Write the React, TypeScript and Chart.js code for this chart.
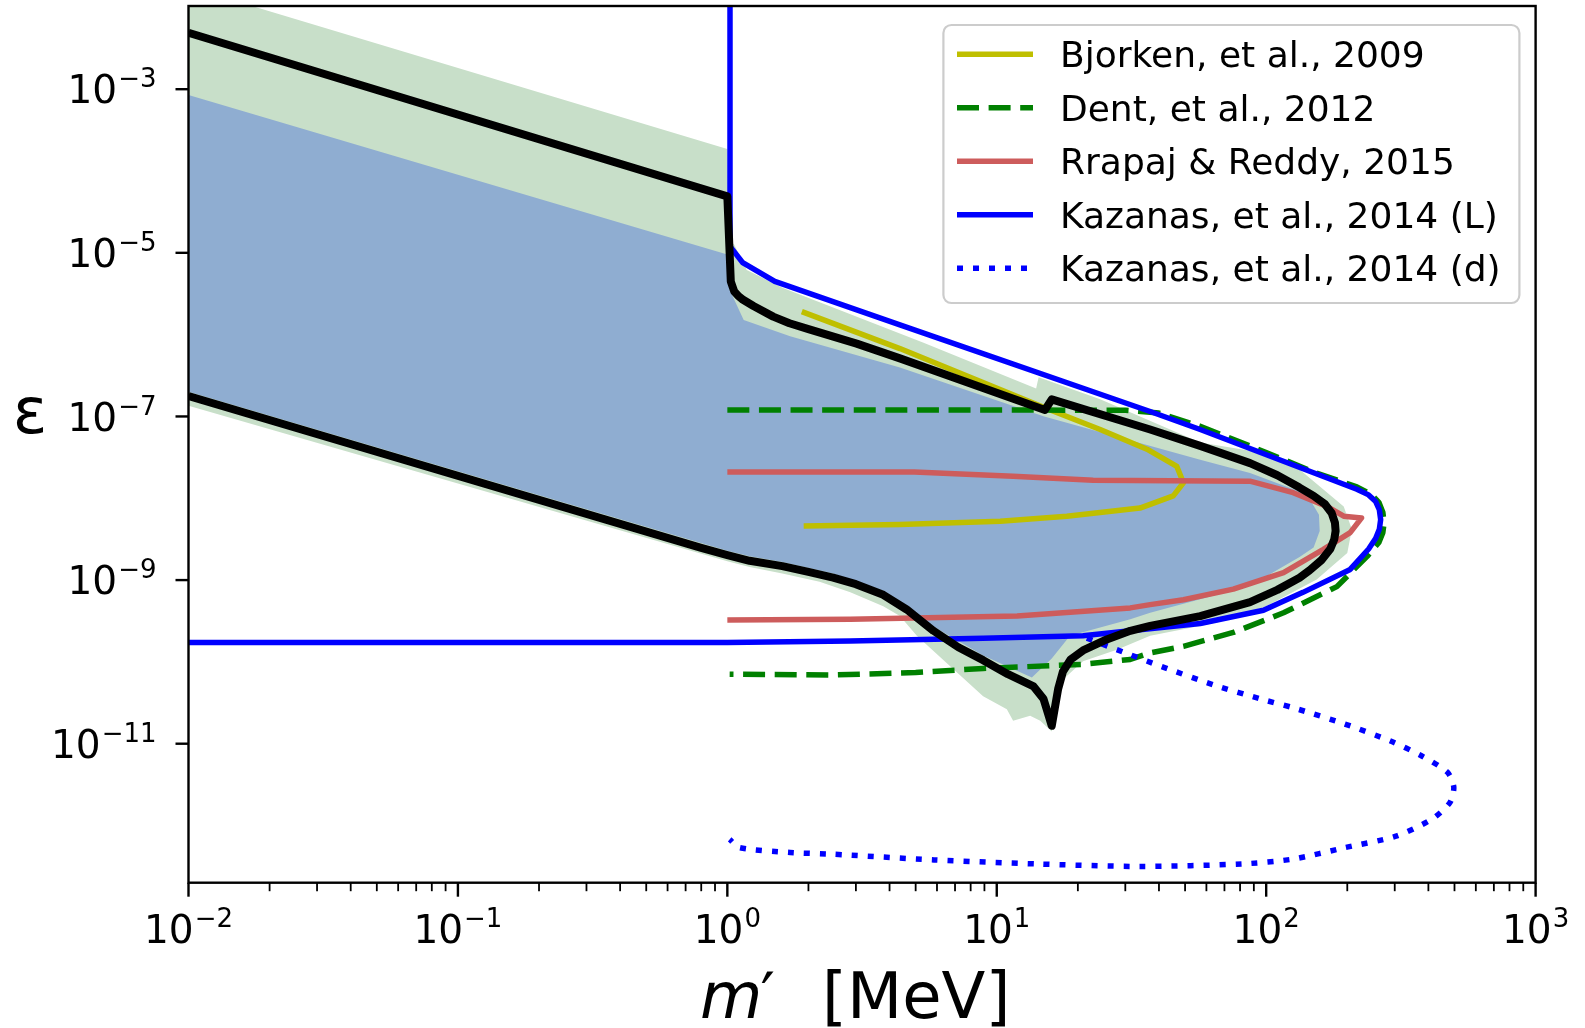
import React, { useEffect, useRef } from 'react';
import { Chart, registerables } from 'chart.js';

Chart.register(...registerables);

const W = 1585;
const H = 1028;

// ---------- data (m' in MeV, epsilon) ----------
const greenRegionX = [0.01, 1.0, 1.01, 1.06, 1.18, 1.61, 5.35, 14.0, 14.3, 24.2, 56.9, 87.1, 133, 194, 208, 200, 154, 100, 65.9, 37.1, 27.9, 20.9, 17.7, 16.2, 16.0, 14.5, 13.3, 11.5, 10.9, 8.9, 6.7, 5.05, 4.37, 3.79, 2.86, 2.2, 1.6, 1.21, 1.0, 0.01];
const greenRegionY = [1.78e-2, 1.86e-4, 1.41e-5, 1.26e-5, 6.17e-6, 3.72e-6, 7.94e-7, 2.19e-7, 3.02e-7, 1.62e-7, 4.79e-8, 3.8e-8, 2.24e-8, 7.94e-9, 4.17e-9, 2.14e-9, 1.02e-9, 4.79e-10, 3.02e-10, 2.09e-10, 1.41e-10, 1.02e-10, 6.17e-11, 2.0e-11, 1.41e-11, 1.91e-11, 2.19e-11, 1.91e-11, 2.63e-11, 3.8e-11, 8.91e-11, 2.09e-10, 3.63e-10, 4.79e-10, 7.08e-10, 9.55e-10, 1.2e-9, 1.45e-9, 1.7e-9, 1.35e-7];

const blueRegionX = [0.01, 1.0, 1.02, 1.15, 1.71, 4.37, 15.0, 56.9, 87.1, 141.6, 157, 158, 150, 133, 87.1, 37.1, 31.3, 18.7, 16.0, 13.5, 8.9, 5.82, 4.63, 3.79, 2.47, 1.6, 1.21, 1.0, 0.01];
const blueRegionY = [8.51e-4, 9.55e-6, 3.55e-6, 1.51e-6, 9.55e-7, 3.98e-7, 1.0e-7, 2.95e-8, 2.04e-8, 1.12e-8, 6.31e-9, 3.98e-9, 2.51e-9, 1.91e-9, 8.51e-10, 3.98e-10, 3.31e-10, 2.09e-10, 1.1e-10, 6.46e-11, 1.2e-10, 2.7e-10, 4.9e-10, 7.4e-10, 1.2e-9, 1.66e-9, 1.95e-9, 2.29e-9, 2.0e-7];

const boundX = [0.01, 1.0, 1.03, 1.06, 1.1, 1.14, 1.25, 1.48, 1.7, 2.0, 3.02, 4.37, 15.1, 16.0, 37.1, 56.9, 87.1, 110, 133, 150, 165, 175, 180, 181, 179, 173, 160, 145, 133, 110, 87.1, 56.9, 37.1, 31.3, 25, 20.9, 18.8, 17.6, 16.9, 16.0, 14.9, 13.7, 11, 8.9, 7.2, 5.82, 4.63, 3.79, 3.0, 2.47, 2.0, 1.6, 1.21, 1.0, 0.8, 0.01];
const boundY = [4.9e-3, 4.9e-5, 4.47e-6, 3.39e-6, 2.95e-6, 2.69e-6, 2.24e-6, 1.66e-6, 1.38e-6, 1.17e-6, 7.76e-7, 5.13e-7, 1.2e-7, 1.62e-7, 6.92e-8, 4.37e-8, 2.69e-8, 1.91e-8, 1.35e-8, 1.07e-8, 8.51e-9, 6.61e-9, 5.01e-9, 3.98e-9, 3.16e-9, 2.4e-9, 1.74e-9, 1.32e-9, 1.07e-9, 7.59e-10, 5.37e-10, 3.63e-10, 2.75e-10, 2.4e-10, 1.82e-10, 1.38e-10, 1.07e-10, 7.59e-11, 4.68e-11, 1.66e-11, 3.55e-11, 5.01e-11, 7.08e-11, 1.05e-10, 1.51e-10, 2.4e-10, 4.37e-10, 6.61e-10, 8.91e-10, 1.07e-9, 1.26e-9, 1.48e-9, 1.72e-9, 2.02e-9, 2.48e-9, 1.78e-7];

const bjorkenX = [1.89, 4.37, 15.8, 24.2, 36.1, 46.6, 49.3, 45.2, 34, 18.2, 10.3, 4.37, 1.92];
const bjorkenY = [1.91e-6, 6.76e-7, 1.2e-7, 6.92e-8, 3.98e-8, 2.45e-8, 1.55e-8, 1.07e-8, 7.59e-9, 6.03e-9, 5.25e-9, 4.79e-9, 4.57e-9];

const dentX = [1.0, 10, 30, 40, 56.9, 100, 150, 217, 245, 262, 271, 274, 271, 262, 237, 183, 116, 75.5, 49.3, 37.1, 31.3, 20.9, 8.9, 5, 2.47, 1.02];
const dentY = [1.2e-7, 1.2e-7, 1.19e-7, 1.1e-7, 7.59e-8, 3.63e-8, 2.09e-8, 1.38e-8, 1.12e-8, 8.91e-9, 6.76e-9, 5.01e-9, 3.8e-9, 2.88e-9, 1.95e-9, 8.32e-10, 3.98e-10, 2.29e-10, 1.55e-10, 1.29e-10, 1.07e-10, 9.33e-11, 8.32e-11, 7.41e-11, 6.92e-11, 7.08e-11];

const rrapajX = [1.0, 4.94, 11.5, 22.8, 87, 126, 168, 194, 226, 205, 163, 116, 75.5, 49.3, 37.1, 31.3, 11.9, 2.86, 1.0];
const rrapajY = [2.09e-8, 2.09e-8, 1.86e-8, 1.66e-8, 1.62e-8, 1.17e-8, 7.94e-9, 6.03e-9, 5.75e-9, 3.8e-9, 2.37e-9, 1.23e-9, 7.76e-10, 5.75e-10, 5.01e-10, 4.57e-10, 3.63e-10, 3.31e-10, 3.24e-10];

const kazLX = [1.023, 1.023, 1.14, 1.5, 4.37, 37.1, 56.9, 217, 240, 255, 263, 266, 263, 255, 240, 205, 137, 97.7, 56.9, 31.3, 20.9, 8.9, 2.86, 1.0, 0.01];
const kazLY = [2e-2, 1.2e-5, 7.59e-6, 4.47e-6, 1.32e-6, 1.15e-7, 6.92e-8, 1.29e-8, 1.1e-8, 9.12e-9, 7.24e-9, 5.5e-9, 4.17e-9, 3.24e-9, 2.4e-9, 1.35e-9, 7.08e-10, 4.27e-10, 2.95e-10, 2.4e-10, 2.09e-10, 1.95e-10, 1.8e-10, 1.73e-10, 1.72e-10];

const kazDX = [21.6, 27.9, 41.2, 63.6, 97, 126, 196, 291, 378, 471, 497, 481, 413, 303, 196, 126, 81.3, 33.8, 14.1, 5.85, 2.43, 1.71, 1.11, 1.02];
const kazDY = [1.95e-10, 1.41e-10, 8.71e-11, 5.25e-11, 3.47e-11, 2.75e-11, 1.74e-11, 1.07e-11, 7.08e-12, 4.47e-12, 2.95e-12, 1.91e-12, 1.2e-12, 7.41e-13, 5.37e-13, 3.89e-13, 3.39e-13, 3.16e-13, 3.39e-13, 3.8e-13, 4.47e-13, 4.68e-13, 5.37e-13, 6.76e-13];

const xTickValues = [1e-2, 1e-1, 1, 10, 100, 1000];
const xTickExps = ['\u22122', '\u22121', '0', '1', '2', '3'];
const yTickValues = [1e-3, 1e-5, 1e-7, 1e-9, 1e-11];
const yTickExps = ['\u22123', '\u22125', '\u22127', '\u22129', '\u221211'];

const legendLabels = [
  'Bjorken, et al., 2009',
  'Dent, et al., 2012',
  'Rrapaj & Reddy, 2015',
  'Kazanas, et al., 2014 (L)',
  'Kazanas, et al., 2014 (d)',
];

const FONT = '"DejaVu Sans", "Liberation Sans", sans-serif';

function pts(xs: number[], ys: number[]) {
  return xs.map((x, i) => ({ x, y: ys[i] }));
}

const decorPlugin = {
  id: 'decor',
  afterDraw(chart: any) {
    const { ctx, chartArea: a } = chart;
    const xs = chart.scales.x;
    const ys = chart.scales.y;
    const seg = (x1: number, y1: number, x2: number, y2: number) => {
      ctx.beginPath();
      ctx.moveTo(x1, y1);
      ctx.lineTo(x2, y2);
      ctx.stroke();
    };
    ctx.save();
    ctx.strokeStyle = '#000';
    ctx.lineCap = 'butt';
    ctx.setLineDash([]);

    // minor x ticks
    ctx.lineWidth = 1.8;
    for (let e = -2; e <= 2; e++) {
      for (let k = 2; k <= 9; k++) {
        const px = xs.getPixelForValue(k * Math.pow(10, e));
        seg(px, a.bottom, px, a.bottom + 8.5);
      }
    }
    // major ticks
    ctx.lineWidth = 2.4;
    xTickValues.forEach((v) => {
      const px = xs.getPixelForValue(v);
      seg(px, a.bottom, px, a.bottom + 14);
    });
    yTickValues.forEach((v) => {
      const py = ys.getPixelForValue(v);
      seg(a.left - 13, py, a.left, py);
    });
    // frame
    ctx.lineWidth = 2.4;
    ctx.strokeRect(a.left, a.top, a.right - a.left, a.bottom - a.top);

    // tick labels (10^n)
    const drawPow = (exp: string, x: number, baseline: number, align: string) => {
      ctx.font = `39px ${FONT}`;
      const wb = ctx.measureText('10').width;
      ctx.font = `26px ${FONT}`;
      const we = ctx.measureText(exp).width;
      const total = wb + we + 1;
      const x0 = align === 'center' ? x - total / 2 : x - total;
      ctx.fillStyle = '#000';
      ctx.textAlign = 'left';
      ctx.textBaseline = 'alphabetic';
      ctx.font = `39px ${FONT}`;
      ctx.fillText('10', x0, baseline);
      ctx.font = `26px ${FONT}`;
      ctx.fillText(exp, x0 + wb + 1, baseline - 16);
    };
    xTickValues.forEach((v, i) => {
      drawPow(xTickExps[i], xs.getPixelForValue(v), a.bottom + 60.5, 'center');
    });
    yTickValues.forEach((v, i) => {
      drawPow(yTickExps[i], a.left - 32, ys.getPixelForValue(v) + 14.2, 'right');
    });

    // axis titles
    ctx.fillStyle = '#000';
    ctx.textBaseline = 'alphabetic';
    ctx.textAlign = 'center';
    ctx.font = `64px ${FONT}`;
    ctx.fillText('\u03b5', 30, 433);

    const cx = (a.left + a.right) / 2;
    const xb = 1018;
    ctx.textAlign = 'left';
    ctx.font = `italic 64px ${FONT}`;
    const mStart = cx - 162;
    ctx.fillText('m', mStart, xb);
    const wm = ctx.measureText('m').width;
    ctx.font = `64px ${FONT}`;
    ctx.fillText('\u2032', mStart + wm - 2, xb);
    ctx.fillText('[MeV]', cx - 40, xb);

    // legend
    const lx = 943.4, ly = 25, lw = 576, lh = 278;
    ctx.beginPath();
    if (ctx.roundRect) ctx.roundRect(lx, ly, lw, lh, 8);
    else ctx.rect(lx, ly, lw, lh);
    ctx.fillStyle = 'rgba(255,255,255,0.85)';
    ctx.fill();
    ctx.strokeStyle = '#cccccc';
    ctx.lineWidth = 2.2;
    ctx.stroke();

    legendLabels.forEach((lab, i) => {
      const ds = chart.data.datasets.find((d: any) => d.label === lab);
      const yy = 54.3 + i * 53.5;
      if (ds) {
        ctx.strokeStyle = ds.borderColor;
        ctx.lineWidth = ds.borderWidth;
        ctx.setLineDash(ds.borderDash || []);
        ctx.lineCap = 'butt';
        seg(957, yy, 1033, yy);
        ctx.setLineDash([]);
      }
      ctx.fillStyle = '#000';
      ctx.font = `36px ${FONT}`;
      ctx.textAlign = 'left';
      ctx.textBaseline = 'alphabetic';
      ctx.fillText(lab, 1060, yy + 13);
    });
    ctx.restore();
  },
};

export default function App() {
  const canvasRef = useRef<HTMLCanvasElement | null>(null);

  useEffect(() => {
    const canvas = canvasRef.current;
    if (!canvas) return;
    const common = { showLine: true, pointRadius: 0, pointHoverRadius: 0, tension: 0, borderJoinStyle: 'round' };
    const chart = new Chart(canvas, {
      type: 'scatter',
      data: {
        datasets: [
          { ...common, label: 'bound', data: pts(boundX, boundY), borderColor: '#000000', borderWidth: 8, fill: false, order: 0 },
          { ...common, label: 'Kazanas, et al., 2014 (d)', data: pts(kazDX, kazDY), borderColor: '#0000ff', borderWidth: 5.5, borderDash: [6, 10], fill: false, tension: 0.25, order: 1 },
          { ...common, label: 'Kazanas, et al., 2014 (L)', data: pts(kazLX, kazLY), borderColor: '#0000ff', borderWidth: 5.5, fill: false, order: 2 },
          { ...common, label: 'Rrapaj & Reddy, 2015', data: pts(rrapajX, rrapajY), borderColor: '#cd5c5c', borderWidth: 5.5, fill: false, order: 3 },
          { ...common, label: 'Dent, et al., 2012', data: pts(dentX, dentY), borderColor: '#008000', borderWidth: 5.5, borderDash: [22, 9.6], fill: false, order: 4 },
          { ...common, label: 'Bjorken, et al., 2009', data: pts(bjorkenX, bjorkenY), borderColor: '#bfbf00', borderWidth: 5.5, fill: false, order: 5 },
          { ...common, label: 'blueRegion', data: pts(blueRegionX, blueRegionY), borderColor: 'rgba(0,0,0,0)', borderWidth: 1, backgroundColor: '#8fadd1', fill: 'shape', order: 8 },
          { ...common, label: 'greenRegion', data: pts(greenRegionX, greenRegionY), borderColor: 'rgba(0,0,0,0)', borderWidth: 1, backgroundColor: '#c8dfc9', fill: 'shape', order: 9 },
        ],
      },
      options: {
        animation: false,
        responsive: false,
        devicePixelRatio: 1,
        events: [],
        layout: { padding: { left: 0, top: 6, right: W - 1535.6, bottom: 0 } },
        plugins: { legend: { display: false }, tooltip: { enabled: false } },
        scales: {
          x: {
            type: 'logarithmic',
            position: 'bottom',
            min: 0.01,
            max: 1000,
            ticks: { display: false },
            grid: { display: false },
            border: { display: false },
            afterFit: (s: any) => { s.height = H - 882.7; },
          },
          y: {
            type: 'logarithmic',
            position: 'left',
            min: 2e-13,
            max: 1.04e-2,
            ticks: { display: false },
            grid: { display: false },
            border: { display: false },
            afterFit: (s: any) => { s.width = 188.5; },
          },
        },
      } as any,
      plugins: [decorPlugin],
    } as any);
    return () => chart.destroy();
  }, []);

  return (
    <div style={{ position: 'absolute', left: 0, top: 0, width: W, height: H, background: '#ffffff' }}>
      <canvas ref={canvasRef} width={W} height={H} style={{ display: 'block', width: W, height: H }} />
    </div>
  );
}
